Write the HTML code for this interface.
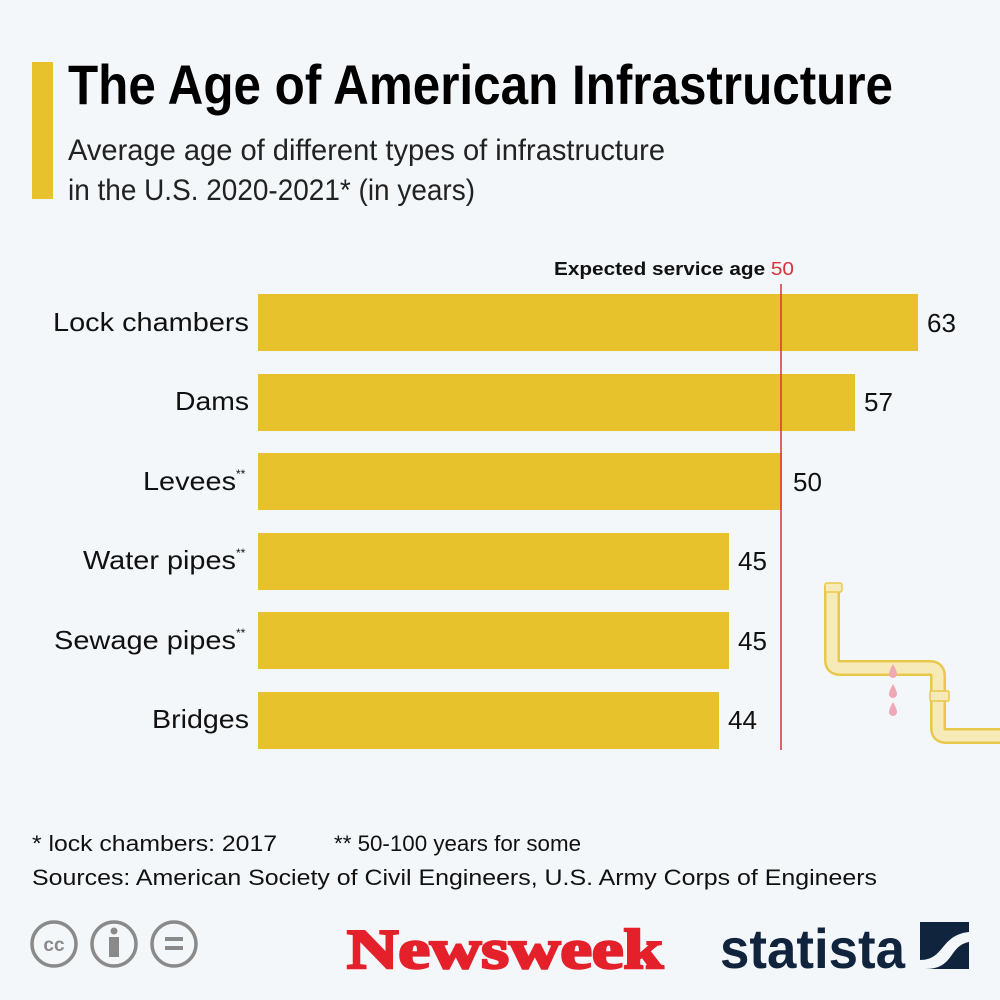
<!DOCTYPE html>
<html><head><meta charset="utf-8"><style>
html,body{margin:0;padding:0;background:#f4f7fa;}
svg{display:block;font-family:"Liberation Sans",sans-serif;}
</style></head><body>
<svg width="1000" height="1000" viewBox="0 0 1000 1000" xmlns="http://www.w3.org/2000/svg">
<rect width="1000" height="1000" fill="#f4f7fa"/>
<rect x="32" y="62" width="21" height="137" fill="#e8c22d"/>
<text x="68" y="104" font-size="56" font-weight="bold" fill="#000" textLength="825" lengthAdjust="spacingAndGlyphs">The Age of American Infrastructure</text>
<text x="68" y="160" font-size="30" fill="#222" textLength="597" lengthAdjust="spacingAndGlyphs">Average age of different types of infrastructure</text>
<text x="68" y="200" font-size="30" fill="#222" textLength="407" lengthAdjust="spacingAndGlyphs">in the U.S. 2020-2021* (in years)</text>

<!-- pipe -->
<g fill="none" stroke-linejoin="round">
<path d="M832 586 V660 Q832 668 840 668 H930 Q938 668 938 676 V728 Q938 736 946 736 H1000" stroke="#e8c84a" stroke-width="16"/>
<path d="M832 586 V660 Q832 668 840 668 H930 Q938 668 938 676 V728 Q938 736 946 736 H1000" stroke="#f6ebb8" stroke-width="11"/>
</g>
<rect x="825" y="583" width="17" height="9" rx="2" fill="#f6ebb8" stroke="#e8c84a" stroke-width="1.5"/>
<rect x="930" y="691" width="19" height="10" rx="1" fill="#f6ebb8" stroke="#e8c84a" stroke-width="1.5"/>
<g fill="#f0a8b4">
<path d="M893 664 Q889 671 889 674 A4 4 0 0 0 897 674 Q897 671 893 664Z"/>
<path d="M893 684 Q889 691 889 694 A4 4 0 0 0 897 694 Q897 691 893 684Z"/>
<path d="M893 702 Q889 709 889 712 A4 4 0 0 0 897 712 Q897 709 893 702Z"/>
</g>

<g fill="#e8c22d">
<rect x="258" y="294" width="660" height="57"/>
<rect x="258" y="374" width="597" height="57"/>
<rect x="258" y="453" width="524" height="57"/>
<rect x="258" y="533" width="471" height="57"/>
<rect x="258" y="612" width="471" height="57"/>
<rect x="258" y="692" width="461" height="57"/>
</g>
<line x1="781" y1="284" x2="781" y2="750" stroke="#d8323a" stroke-width="1.5"/>
<text x="554" y="275" font-size="18" font-weight="bold" fill="#111" textLength="240" lengthAdjust="spacingAndGlyphs">Expected service age <tspan fill="#d8323a" font-weight="normal">50</tspan></text>

<g font-size="26" fill="#111">
<text x="53" y="331" textLength="196" lengthAdjust="spacingAndGlyphs">Lock chambers</text>
<text x="175" y="410" textLength="74" lengthAdjust="spacingAndGlyphs">Dams</text>
<text x="143" y="490" textLength="93" lengthAdjust="spacingAndGlyphs">Levees</text>
<text x="83" y="569" textLength="153" lengthAdjust="spacingAndGlyphs">Water pipes</text>
<text x="54" y="649" textLength="182" lengthAdjust="spacingAndGlyphs">Sewage pipes</text>
<text x="152" y="728" textLength="97" lengthAdjust="spacingAndGlyphs">Bridges</text>
</g>
<g font-size="12" fill="#111">
<text x="236" y="478">**</text>
<text x="236" y="557">**</text>
<text x="236" y="637">**</text>
</g>
<g font-size="26" fill="#111">
<text x="927" y="332">63</text>
<text x="864" y="411">57</text>
<text x="793" y="491">50</text>
<text x="738" y="570">45</text>
<text x="738" y="650">45</text>
<text x="728" y="729">44</text>
</g>

<text x="32" y="851" font-size="22" fill="#111" textLength="245" lengthAdjust="spacingAndGlyphs">* lock chambers: 2017</text>
<text x="334" y="851" font-size="22" fill="#111" textLength="247" lengthAdjust="spacingAndGlyphs">** 50-100 years for some</text>
<text x="32" y="885" font-size="22" fill="#111" textLength="845" lengthAdjust="spacingAndGlyphs">Sources: American Society of Civil Engineers, U.S. Army Corps of Engineers</text>

<g fill="none" stroke="#8a8a8a" stroke-width="3.5">
<circle cx="54" cy="944" r="22"/>
<circle cx="114" cy="944" r="22"/>
<circle cx="174" cy="944" r="22"/>
</g>
<text x="54" y="951" font-size="19" font-weight="bold" fill="#8a8a8a" text-anchor="middle">cc</text>
<circle cx="114" cy="931" r="3.5" fill="#8a8a8a"/>
<rect x="109" y="937" width="10" height="20" fill="#8a8a8a"/>
<rect x="165" y="937" width="18" height="4" fill="#8a8a8a"/>
<rect x="165" y="946" width="18" height="4" fill="#8a8a8a"/>

<text x="347" y="968" font-size="56" font-weight="bold" font-family="Liberation Serif,serif" fill="#e4202a" stroke="#e4202a" stroke-width="2.5" textLength="316" lengthAdjust="spacingAndGlyphs">Newsweek</text>
<text x="720" y="968" font-size="56" font-weight="bold" fill="#11243e" textLength="185" lengthAdjust="spacingAndGlyphs">statista</text>
<rect x="920" y="922" width="49" height="47" fill="#11243e"/>
<path d="M920 960 C945 960 940 935 969 932 V942 C948 946 955 969 925 969 H920Z" fill="#f4f7fa"/>
</svg>
</body></html>
